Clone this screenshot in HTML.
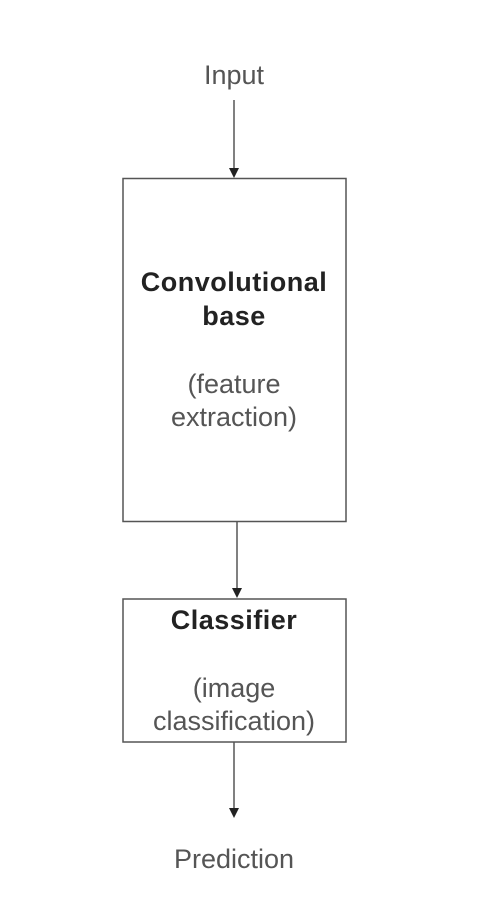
<!DOCTYPE html>
<html><head><meta charset="utf-8"><style>html,body{margin:0;padding:0;background:#fff}</style></head>
<body>
<svg width="494" height="916" xmlns="http://www.w3.org/2000/svg" font-family="Liberation Sans, sans-serif" text-anchor="middle">
<rect x="0" y="0" width="494" height="916" fill="#fff"/>
<g stroke="#555" stroke-width="1.5" fill="none">
<rect x="123" y="178.5" width="223" height="343"/>
<rect x="123" y="599" width="223" height="143"/>
<line x1="234" y1="100" x2="234" y2="170"/>
<line x1="237" y1="522" x2="237" y2="590"/>
<line x1="234" y1="742" x2="234" y2="810"/>
</g>
<g fill="#222">
<polygon points="229,168 239,168 234,178"/>
<polygon points="232,588 242,588 237,598"/>
<polygon points="229,808 239,808 234,818"/>
</g>
<g font-size="27" fill="#555">
<text x="234" y="84">Input</text>
<text x="234" y="393">(feature</text>
<text x="234" y="426">extraction)</text>
<text x="234" y="697">(image</text>
<text x="234" y="730">classification)</text>
<text x="234" y="868">Prediction</text>
</g>
<g font-size="27" font-weight="bold" fill="#222" letter-spacing="0.5">
<text x="234" y="291">Convolutional</text>
<text x="234" y="325">base</text>
<text x="234" y="629">Classifier</text>
</g>
</svg>
</body></html>
